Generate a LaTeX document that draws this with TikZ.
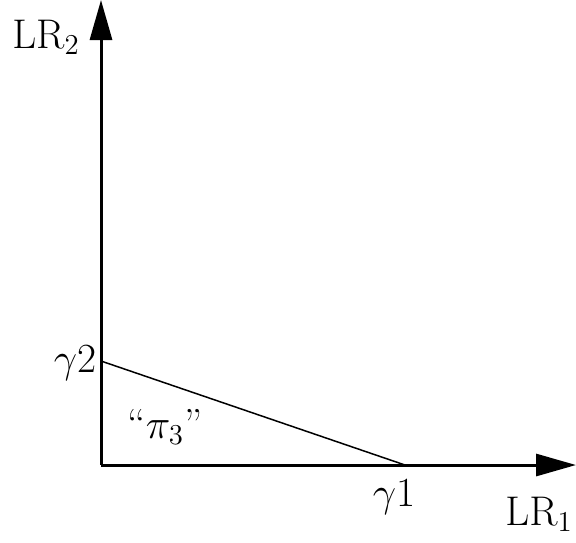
\documentclass[tikz,border=0pt]{standalone}
\usepackage{amsmath, amssymb}
\usepackage{tikz}
\usetikzlibrary{arrows.meta}

\begin{document}
\begin{tikzpicture}[x=0.5pt, y=-0.5pt, font=\fontsize{21}{25}\selectfont]
  \useasboundingbox (0,0) rectangle (576,542);
  \coordinate (O) at (101,465);
  \coordinate (xend) at (576,465);
  \coordinate (yend) at (101,0);
  \coordinate (g2) at (101,361);
  \coordinate (g1) at (405,465);
  \draw[line width=1.5pt, -{Triangle[length=20pt, width=11pt]}] (O) -- (xend);
  \draw[line width=1.5pt, -{Triangle[length=20pt, width=11pt]}] (O) -- (yend);
  \draw[line width=0.75pt] (g2) -- (g1);
  \node (lrtwo) at (46,37) {$\mathrm{LR}_2$};
  \node (lrone) at (539,514) {$\mathrm{LR}_1$};
  \node (gtwo) at (75,363) {$\gamma2$};
  \node (gone) at (394,497) {$\gamma1$};
  \node (pithree) at (165,427) {``$\pi_3$''};
\end{tikzpicture}
\end{document}
